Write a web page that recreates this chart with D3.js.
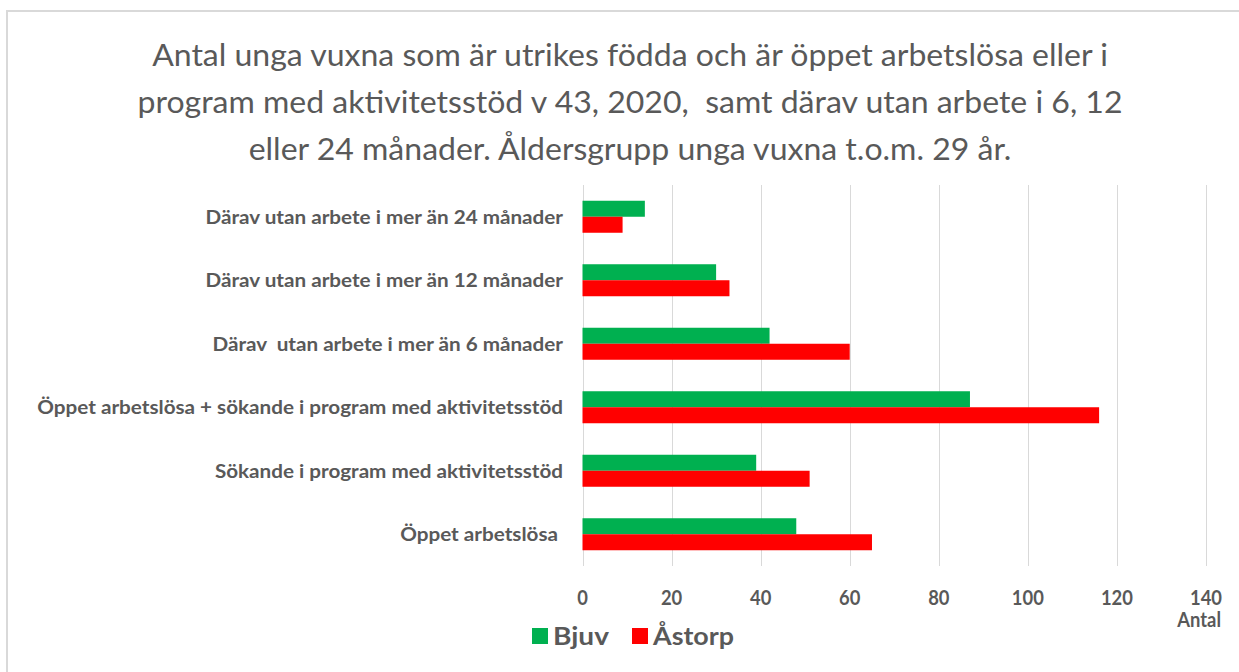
<!DOCTYPE html>
<html>
<head>
<meta charset="utf-8">
<script src="https://cdn.jsdelivr.net/npm/d3@7"></script>
<style>
  html, body { margin: 0; padding: 0; background: #fff; }
  svg { display: block; }
  text { white-space: pre; }
</style>
</head>
<body>
<svg id="chart" width="1239" height="672"></svg>
<script>
const titleLines = [
  "Antal unga vuxna som är utrikes födda och är öppet arbetslösa eller i",
  "program med aktivitetsstöd v 43, 2020,  samt därav utan arbete i 6, 12",
  "eller 24 månader. Åldersgrupp unga vuxna t.o.m. 29 år."
];
const categories = [
  "Därav utan arbete i mer än 24 månader",
  "Därav utan arbete i mer än 12 månader",
  "Därav  utan arbete i mer än 6 månader",
  "Öppet arbetslösa + sökande i program med aktivitetsstöd",
  "Sökande i program med aktivitetsstöd",
  "Öppet arbetslösa "
];
const seriesNames = ["Bjuv", "Åstorp"];
const bjuv   = [14, 30, 42, 87, 39, 48];
const astorp = [9, 33, 60, 116, 51, 65];
const xTicks = [0, 20, 40, 60, 80, 100, 120, 140];
const axisTitle = "Antal";
const colors = ["#00B050", "#FF0000"];

const textColor = "#595959";
const FONT = "Lato, 'Open Sans', sans-serif";

const svg = d3.select("#chart");

// frame
svg.append("line").attr("x1", 6).attr("x2", 1239).attr("y1", 11).attr("y2", 11)
  .attr("stroke", "#d9d9d9").attr("stroke-width", 2);
svg.append("line").attr("x1", 7).attr("x2", 7).attr("y1", 10).attr("y2", 672)
  .attr("stroke", "#d9d9d9").attr("stroke-width", 2);

function fitText(sel, targetWidth) {
  const w = sel.node().getComputedTextLength();
  return targetWidth / w;
}

// title
const titleG = svg.append("g");
let titleScale = null;
titleLines.forEach((line, i) => {
  const t = titleG.append("text")
    .attr("font-family", FONT).attr("font-size", 30)
    .attr("fill", textColor).attr("text-anchor", "middle")
    .text(line);
  if (titleScale === null) titleScale = fitText(t, 956);
  t.attr("transform", `translate(630,${66 + i * 47}) scale(${titleScale},1)`);
});

// scales
const x = d3.scaleLinear().domain([0, 140]).range([582.5, 1206]);
const y = d3.scaleBand().domain(categories).range([185, 566])
  .paddingInner(0.496).paddingOuter(0.248);
const ySub = d3.scaleBand().domain(seriesNames).range([0, y.bandwidth()]);

// gridlines
svg.append("g").selectAll("line").data(xTicks).join("line")
  .attr("x1", d => Math.round(x(d)) + 0.5).attr("x2", d => Math.round(x(d)) + 0.5)
  .attr("y1", 185).attr("y2", 566)
  .attr("stroke", "#d9d9d9").attr("stroke-width", 1);

// bars
const seriesData = [bjuv, astorp];
seriesNames.forEach((name, si) => {
  svg.append("g").selectAll("rect").data(categories).join("rect")
    .attr("x", x(0))
    .attr("y", c => y(c) + ySub(name))
    .attr("width", (c, i) => x(seriesData[si][i]) - x(0))
    .attr("height", ySub.bandwidth())
    .attr("fill", colors[si]);
});

// category labels
const catG = svg.append("g");
const probe = catG.append("text").attr("font-family", FONT).attr("font-size", 19.5)
  .attr("font-weight", "bold").text(categories[3]);
const catScale = fitText(probe, 526);
probe.remove();
categories.forEach(c => {
  catG.append("text")
    .attr("font-family", FONT).attr("font-size", 19.5).attr("font-weight", "bold")
    .attr("fill", textColor).attr("text-anchor", "end")
    .attr("transform", `translate(563,${y(c) + y.bandwidth() / 2 + 7}) scale(${catScale},1)`)
    .text(c);
});

// x tick labels
const tickG = svg.append("g");
const tprobe = tickG.append("text").attr("font-family", FONT).attr("font-size", 21)
  .attr("font-weight", "bold").text("140");
const tickScale = fitText(tprobe, 32);
tprobe.remove();
xTicks.forEach(t => {
  tickG.append("text")
    .attr("font-family", FONT).attr("font-size", 21).attr("font-weight", "bold")
    .attr("fill", textColor).attr("text-anchor", "middle")
    .attr("transform", `translate(${x(t)},605) scale(${tickScale},1)`)
    .text(t);
});

// axis title
svg.append("text")
  .attr("font-family", FONT).attr("font-size", 21).attr("font-weight", "bold")
  .attr("fill", textColor).attr("text-anchor", "end").text(axisTitle)
  .attr("transform", `translate(1221,627) scale(${tickScale},1)`);

// legend
const legendX = [532, 632];
const legG = svg.append("g");
seriesNames.forEach((name, i) => {
  legG.append("rect").attr("x", legendX[i]).attr("y", 628)
    .attr("width", 16).attr("height", 16).attr("fill", colors[i]);
  const lt = legG.append("text")
    .attr("font-family", FONT).attr("font-size", 25).attr("font-weight", "bold")
    .attr("fill", textColor).text(name);
  const s = fitText(lt, i === 0 ? 56 : 81);
  lt.attr("transform", `translate(${legendX[i] + 21},645) scale(${s},1)`);
});
</script>
</body>
</html>
